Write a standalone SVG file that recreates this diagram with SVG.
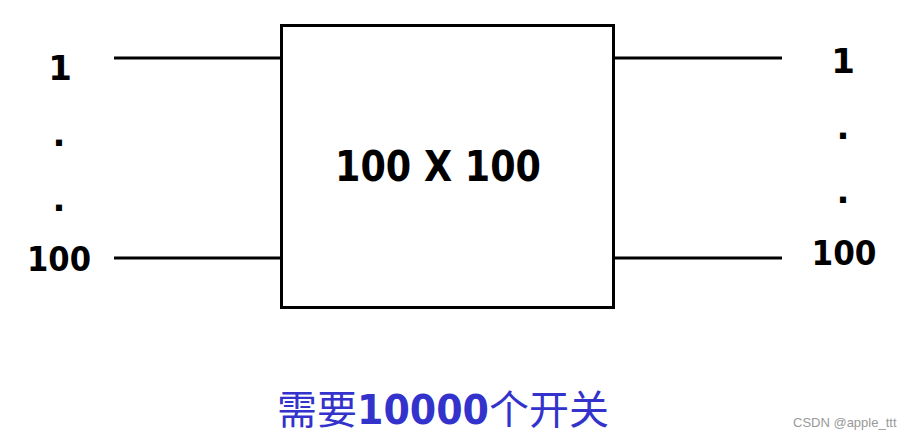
<svg xmlns="http://www.w3.org/2000/svg" width="922" height="440" viewBox="0 0 922 440">
<style>
.ln{stroke:#000;stroke-width:3;fill:none}
.lb{font-family:"DejaVu Sans",Verdana,sans-serif;font-weight:bold;fill:#000}
.cn{font-family:"Noto Sans CJK SC",sans-serif;fill:#3333cc}
.dg{font-family:"DejaVu Sans",sans-serif;font-weight:bold;fill:#3333cc}
</style>
<rect width="922" height="440" fill="#fff"/>
<g id="connectors">
<line class="ln" x1="114" y1="58" x2="281" y2="58"/>
<line class="ln" x1="114" y1="258" x2="281" y2="258"/>
<line class="ln" x1="614" y1="58" x2="782" y2="58"/>
<line class="ln" x1="614" y1="258" x2="782" y2="258"/>
</g>
<g id="switch">
<rect class="ln" x="281.5" y="25.5" width="332" height="282"/>
<text class="lb" x="438" y="181" font-size="42" text-anchor="middle" textLength="206" lengthAdjust="spacingAndGlyphs">100 X 100</text>
</g>
<g id="inputs">
<text class="lb" x="60" y="80" font-size="34" text-anchor="middle">1</text>
<text class="lb" x="59" y="146" font-size="34" text-anchor="middle">.</text>
<text class="lb" x="59" y="211" font-size="34" text-anchor="middle">.</text>
<text class="lb" x="59" y="271" font-size="34" text-anchor="middle" textLength="64" lengthAdjust="spacingAndGlyphs">100</text>
</g>
<g id="outputs">
<text class="lb" x="843" y="73" font-size="34" text-anchor="middle">1</text>
<text class="lb" x="843" y="139" font-size="34" text-anchor="middle">.</text>
<text class="lb" x="843" y="203" font-size="34" text-anchor="middle">.</text>
<text class="lb" x="844" y="265" font-size="34" text-anchor="middle" textLength="65" lengthAdjust="spacingAndGlyphs">100</text>
</g>
<g id="caption">
<text x="277" y="424" font-size="40"><tspan class="cn">需要</tspan><tspan class="dg" font-size="41" textLength="132" lengthAdjust="spacingAndGlyphs">10000</tspan><tspan class="cn">个开关</tspan></text>
</g>
<text x="793" y="427" font-family="'Liberation Sans',Arial,sans-serif" font-size="13" fill="#999">CSDN @apple_ttt</text>
</svg>
